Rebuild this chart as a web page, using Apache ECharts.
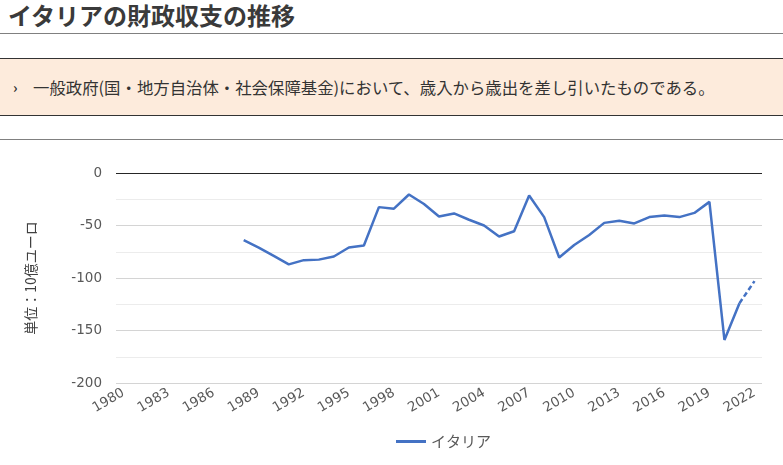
<!DOCTYPE html>
<html lang="ja">
<head>
<meta charset="utf-8">
<title>イタリアの財政収支の推移</title>
<script src="https://cdn.jsdelivr.net/npm/echarts@6/dist/echarts.min.js"></script>
<style>
    html, body {
        margin: 0;
        padding: 0;
        width: 783px;
        height: 465px;
        overflow: hidden;
        background: #fff;
        font-family: "Noto Sans CJK JP", sans-serif;
        color: #333;
    }
    .title {
        position: absolute;
        left: 8px;
        top: 0;
        height: 33px;
        line-height: 29px;
        font-size: 24px;
        font-weight: bold;
        color: #3a3a3a;
    }
    .rule {
        position: absolute;
        left: 0;
        width: 783px;
        height: 0;
        border-top: 1px solid #808080;
    }
    .note {
        position: absolute;
        left: 0;
        top: 58px;
        width: 783px;
        height: 56px;
        background: #fdebdc;
        border-top: 1px solid #333;
        border-bottom: 1px solid #333;
        font-size: 16.4px;
        line-height: 56px;
        color: #333;
    }
    .note .mark {
        position: absolute;
        left: 13px;
        font-size: 14px;
        font-weight: bold;
    }
    .note .text {
        position: absolute;
        left: 33px;
    }
    #chart {
        position: absolute;
        left: 0;
        top: 140px;
        width: 783px;
        height: 325px;
    }
</style>
</head>
<body>
<div class="title">イタリアの財政収支の推移</div>
<div class="rule" style="top:33px"></div>
<div class="note"><span class="mark">›</span><span class="text">一般政府(国・地方自治体・社会保障基金)において、歳入から歳出を差し引いたものである。</span></div>
<div class="rule" style="top:139px"></div>
<div id="chart"></div>
<script>
// 年（カテゴリ）
const years = [];
for (let y = 1980; y <= 2022; y++) years.push(String(y));

// 財政収支（10億ユーロ）1980-2021、実績
const balance = [
    null, null, null, null, null, null, null, null,       // 1980-1987
    -64, -71, -79, -87, -83, -82.5, -79.5, -71, -69,      // 1988-1996
    -32.5, -34, -20.5, -29.5, -41.5, -38.5, -44.5, -50,   // 1997-2004
    -60.5, -55.5, -21.5, -42, -80.5, -68.5, -59, -47.5,   // 2005-2012
    -45.5, -48, -42, -40.5, -42, -38, -27.5, -159, -124   // 2013-2021
];

// 見通し（点線）2021-2022
const forecast = [];
for (let i = 0; i < years.length; i++) forecast.push(null);
forecast[41] = -124;   // 2021
forecast[42] = -103;   // 2022

const yTicks = { min: -200, max: 0, step: 50 };

const lineColor = '#4472c4';
const labelColor = '#595959';
const numFont = 'DejaVu Sans';
const jpFont = 'Noto Sans CJK JP';

const chart = echarts.init(document.getElementById('chart'));

const option = {
    animation: false,
    textStyle: { fontFamily: jpFont },
    grid: {
        left: 116,
        right: 21,
        top: 33,
        bottom: 82
    },
    legend: {
        data: ['イタリア'],
        left: 391,
        bottom: 11,
        icon: 'rect',
        itemWidth: 30,
        itemHeight: 3,
        itemGap: 8,
        textStyle: { color: labelColor, fontSize: 15, fontFamily: jpFont }
    },
    xAxis: {
        type: 'category',
        data: years,
        boundaryGap: true,
        axisLine: { show: false },
        axisTick: { show: false },
        axisLabel: {
            interval: 2,
            rotate: 30,
            margin: 9,
            color: labelColor,
            fontSize: 13.5,
            fontFamily: numFont
        }
    },
    yAxis: {
        type: 'value',
        min: yTicks.min,
        max: yTicks.max,
        interval: yTicks.step,
        name: '単位：10億ユーロ',
        nameLocation: 'middle',
        nameRotate: 90,
        nameGap: 78,
        nameTextStyle: { color: '#404040', fontSize: 14, fontFamily: jpFont },
        axisLine: { show: false },
        axisTick: { show: false },
        axisLabel: {
            margin: 14,
            color: labelColor,
            fontSize: 13.5,
            fontFamily: numFont
        },
        splitLine: { lineStyle: { color: '#d4d4d4', width: 1 } },
        minorTick: { show: false, splitNumber: 2 },
        minorSplitLine: { show: true, lineStyle: { color: '#ececec', width: 1 } }
    },
    series: [
        {
            name: 'イタリア',
            type: 'line',
            data: balance,
            symbol: 'none',
            connectNulls: false,
            lineStyle: { color: lineColor, width: 2.5 },
            itemStyle: { color: lineColor },
            markLine: {
                silent: true,
                symbol: 'none',
                label: { show: false },
                lineStyle: { color: '#262626', width: 1, type: 'solid' },
                data: [{ yAxis: 0 }]
            }
        },
        {
            name: 'イタリア',
            type: 'line',
            data: forecast,
            symbol: 'none',
            lineStyle: { color: lineColor, width: 2.5, type: [5, 3] },
            itemStyle: { color: lineColor }
        }
    ]
};

chart.setOption(option);
</script>
</body>
</html>
